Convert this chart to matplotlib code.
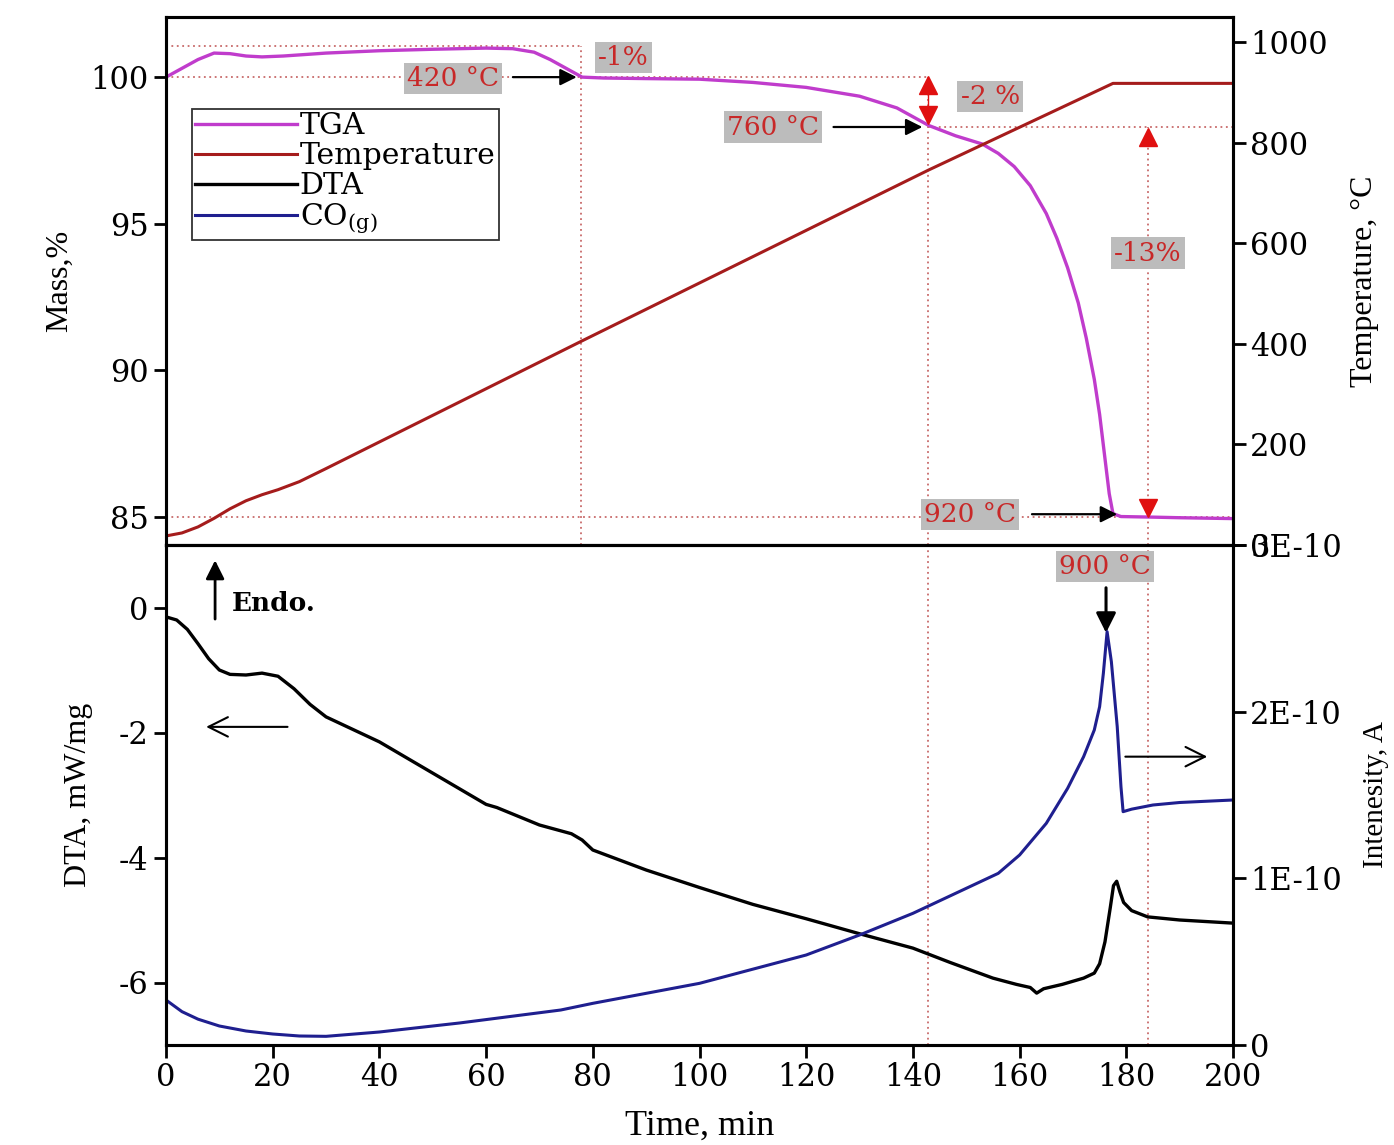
import matplotlib
matplotlib.use("Agg")
import matplotlib.pyplot as plt

# ---- data ----
# TGA, mass % vs time (min)
tga_t = [0, 3, 6, 9, 12, 15, 18, 22, 30, 40, 50, 60, 65, 69, 72, 75, 78, 82, 90, 100,
         110, 120, 130, 137, 143, 148, 153, 156, 159, 162, 165, 167, 169, 171, 172.5,
         174, 175, 176, 176.8, 177.5, 179, 185, 190, 200]
tga_m = [100.0, 100.3, 100.6, 100.82, 100.8, 100.72, 100.69, 100.72, 100.82, 100.9,
         100.95, 100.99, 100.97, 100.85, 100.6, 100.3, 100.0, 99.97, 99.95, 99.93,
         99.82, 99.65, 99.35, 98.95, 98.35, 98.0, 97.72, 97.4, 96.95, 96.3, 95.35, 94.5,
         93.5, 92.3, 91.1, 89.7, 88.5, 87.0, 85.8, 85.12, 85.02, 85.0, 84.98, 84.95]

# furnace temperature, degC
temp_t = [0, 3, 6, 9, 12, 15, 18, 21, 25, 30, 78, 143, 177.5, 200]
temp_c = [18, 24, 36, 53, 72, 88, 100, 110, 126, 152, 406, 746, 918, 918]

# DTA, mW/mg
dta_t = [0, 2, 4, 6, 8, 10, 12, 15, 18, 21, 24, 27, 30, 35, 40, 50, 58, 60, 62, 70, 76,
         78, 80, 90, 100, 110, 120, 130, 140, 147, 155, 159.4, 162, 163.2, 164.5, 168,
         172, 174, 175, 176, 177, 177.6, 178.2, 178.8, 179.5, 181, 184, 190, 200]
dta_v = [-0.15, -0.2, -0.35, -0.58, -0.82, -1.0, -1.07, -1.08, -1.05, -1.1, -1.3, -1.55,
         -1.75, -1.95, -2.15, -2.65, -3.05, -3.15, -3.2, -3.48, -3.62, -3.72, -3.88, -4.2,
         -4.48, -4.75, -4.98, -5.22, -5.45, -5.68, -5.93, -6.03, -6.08, -6.17, -6.1,
         -6.03, -5.93, -5.85, -5.7, -5.35, -4.8, -4.45, -4.38, -4.55, -4.72, -4.85,
         -4.95, -5.0, -5.05]

# CO(g) ion current, A (values in 1E-11)
co_t = [0, 3, 6, 10, 15, 20, 25, 30, 40, 55, 74, 80, 100, 120, 130, 140, 150, 156, 160,
        165, 169, 172, 174, 175, 175.7, 176.4, 177.2, 178.3, 179.0, 179.4, 181, 185,
        190, 200]
co_e11 = [2.7, 2.0, 1.55, 1.14, 0.84, 0.66, 0.54, 0.52, 0.78, 1.32, 2.1, 2.5, 3.7, 5.4,
          6.6, 7.9, 9.4, 10.3, 11.4, 13.3, 15.4, 17.3, 18.9, 20.3, 22.3, 24.8, 23.0,
          19.1, 15.5, 14.0, 14.15, 14.4, 14.55, 14.7]
co_a = [v * 1e-11 for v in co_e11]

time_ticks = list(range(0, 201, 20))
mass_ticks = [85, 90, 95, 100]
temp_ticks = [0, 200, 400, 600, 800, 1000]
dta_ticks = [-6, -4, -2, 0]
co_ticks = [0, 1e-10, 2e-10, 3e-10]
co_labels = ["0", "1E-10", "2E-10", "3E-10"]

# event markers
t_420, t_760, t_end = 77.8, 142.8, 184.0
m_top, m_start, m_760, m_end = 101.05, 100.0, 98.3, 85.0

# ---- style ----
plt.rcParams['font.family'] = ['DejaVu Serif']
plt.rcParams['mathtext.fontset'] = 'dejavuserif'
plt.rcParams['axes.unicode_minus'] = False
TICK = 22
LAB = dict(family='Liberation Serif', fontsize=23)
c_tga = '#c03ccc'
c_temp = '#a51c1c'
c_dta = 'black'
c_co = '#1f1f8f'
c_dot = '#c86a6a'
c_red = '#c82828'
box = dict(boxstyle='square,pad=0.12', fc='#bcbcbc', ec='none')
dots = (0, (1, 2))

fig = plt.figure(figsize=(13.94, 11.45), dpi=100)
ax1 = fig.add_axes([166/1394, 600/1145, 1067/1394, 528/1145])
ax2 = fig.add_axes([166/1394, 100/1145, 1067/1394, 500/1145])
ax1r = ax1.twinx()
ax2r = ax2.twinx()

for a in (ax1, ax2, ax1r, ax2r):
    for s in a.spines.values():
        s.set_linewidth(2.2)
    a.tick_params(direction='out', length=9, width=2, labelsize=TICK)

# ---- top panel ----
ax1.set_xlim(0, 200)
ax1.set_ylim(84.05, 102.05)
ax1.set_yticks(mass_ticks)
ax1.tick_params(axis='x', bottom=False, labelbottom=False)
ax1r.set_ylim(0, 1050)
ax1r.set_yticks(temp_ticks)

# dotted guide lines
ax1.plot([0, t_420], [m_top, m_top], ls=dots, color=c_dot, lw=1.3)
ax1.plot([0, t_760], [m_start, m_start], ls=dots, color=c_dot, lw=1.3)
ax1.plot([t_760, 200], [m_760, m_760], ls=dots, color=c_dot, lw=1.3)
ax1.plot([0, 200], [m_end, m_end], ls=dots, color=c_dot, lw=1.3)
ax1.plot([t_420, t_420], [84.05, m_top], ls=dots, color=c_dot, lw=1.3)
ax1.plot([t_760, t_760], [84.05, m_start], ls=dots, color=c_dot, lw=1.3)
ax1.plot([t_end, t_end], [84.05, m_760], ls=dots, color=c_dot, lw=1.3)

l_tga, = ax1.plot(tga_t, tga_m, color=c_tga, lw=2.4)
l_temp, = ax1r.plot(temp_t, temp_c, color=c_temp, lw=2.2)

# red up/down markers for the mass steps
ax1.plot([t_760], [99.72], marker='^', color='#e01010', ms=13, zorder=5)
ax1.plot([t_760], [98.7], marker='v', color='#e01010', ms=13, zorder=5)
ax1.plot([t_760, t_760], [99.72, 98.7], color='#e01010', lw=1)
ax1.plot([t_end], [97.95], marker='^', color='#e01010', ms=13, zorder=5)
ax1.plot([t_end], [85.3], marker='v', color='#e01010', ms=13, zorder=5)

arw = dict(arrowstyle='-|>', color='black', lw=1.6, mutation_scale=25)
ax1.text(53.8, 99.95, "420 °C", color=c_red, fontsize=19, ha='center', va='center', bbox=box)
ax1.annotate('', xy=(t_420 - 0.3, m_start), xytext=(64.5, m_start), arrowprops=arw)
ax1.text(85.8, 100.68, "-1%", color=c_red, fontsize=19, ha='center', va='center', bbox=box)
ax1.text(113.8, 98.3, "760 °C", color=c_red, fontsize=19, ha='center', va='center', bbox=box)
ax1.annotate('', xy=(t_760 - 0.5, m_760), xytext=(124.6, m_760), arrowprops=arw)
ax1.text(154.5, 99.35, "-2 %", color=c_red, fontsize=19, ha='center', va='center', bbox=box)
ax1.text(t_end, 94.0, "-13%", color=c_red, fontsize=19, ha='center', va='center', bbox=box)
ax1.text(150.7, 85.1, "920 °C", color=c_red, fontsize=19, ha='center', va='center', bbox=box)
ax1.annotate('', xy=(178.8, 85.1), xytext=(161.8, 85.1), arrowprops=arw)

ax1.set_ylabel("Mass,%", **LAB)
ax1.yaxis.set_label_coords(-0.086, 0.5)
ax1r.set_ylabel("Temperature, °C", **LAB)
ax1r.yaxis.set_label_coords(1.11, 0.5)

# ---- bottom panel ----
ax2.set_xlim(0, 200)
ax2.set_ylim(-7, 1)
ax2.set_yticks(dta_ticks)
ax2.set_xticks(time_ticks)
ax2r.set_ylim(0, 3e-10)
ax2r.set_yticks(co_ticks)
ax2r.set_yticklabels(co_labels)

ax2.axvline(t_760, ls=dots, color=c_dot, lw=1.3)
ax2.axvline(t_end, ls=dots, color=c_dot, lw=1.3)

l_dta, = ax2.plot(dta_t, dta_v, color=c_dta, lw=2.4)
l_co, = ax2r.plot(co_t, co_a, color=c_co, lw=2.2)

ax2.annotate('', xy=(9.2, 0.8), xytext=(9.2, -0.23),
             arrowprops=dict(arrowstyle='-|>', color='black', lw=2, mutation_scale=28))
ax2.text(12.3, 0.07, "Endo.", fontsize=19, fontweight='bold', ha='left', va='center')
ax2.annotate('', xy=(7.0, -1.91), xytext=(23.3, -1.91),
             arrowprops=dict(arrowstyle='->', color='black', lw=1.5, mutation_scale=35))
ax2r.annotate('', xy=(195.7, 17.3e-11), xytext=(179.3, 17.3e-11),
              arrowprops=dict(arrowstyle='->', color='black', lw=1.5, mutation_scale=35))
ax2.text(176.0, 0.66, "900 °C", color=c_red, fontsize=19, ha='center', va='center', bbox=box)
ax2.annotate('', xy=(176.2, -0.45), xytext=(176.2, 0.36),
             arrowprops=dict(arrowstyle='-|>', color='black', lw=2.2, mutation_scale=30))

ax2.set_xlabel("Time, min", family='Liberation Serif', fontsize=26, labelpad=12)
ax2.set_ylabel("DTA, mW/mg", **LAB)
ax2.yaxis.set_label_coords(-0.068, 0.5)
ax2r.set_ylabel("Intenesity, A", family='Liberation Serif', fontsize=21)
ax2r.yaxis.set_label_coords(1.122, 0.5)

leg = ax1r.legend([l_tga, l_temp, l_dta, l_co],
                  ["TGA", "Temperature", "DTA", "CO$_{\\mathregular{(g)}}$"],
                  loc='upper left', bbox_to_anchor=(0.024, 0.826), fontsize=21.5,
                  handlelength=3.4, handletextpad=0.1, labelspacing=0.06,
                  borderpad=0.12, borderaxespad=0, fancybox=False, framealpha=1)
leg.get_frame().set_edgecolor('#333333')
leg.get_frame().set_linewidth(1.3)

fig.savefig("out.png", dpi=100)
